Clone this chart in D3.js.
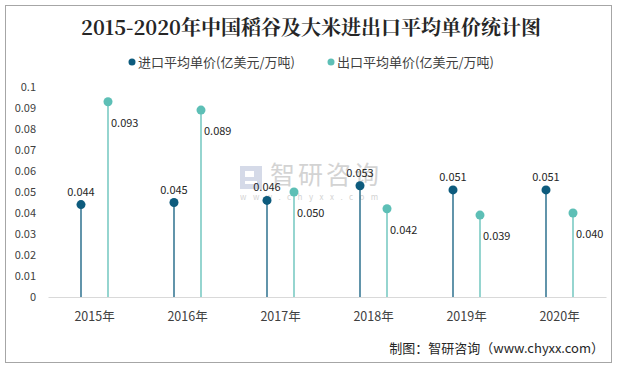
<!DOCTYPE html>
<html><head><meta charset="utf-8">
<script src="https://cdn.jsdelivr.net/npm/d3@7"></script>
<style>body{margin:0;background:#fff}svg{display:block}</style>
</head><body>
<script>
const categories = ["2015年","2016年","2017年","2018年","2019年","2020年"];
const importValues = [0.044,0.045,0.046,0.053,0.051,0.051];
const exportValues = [0.093,0.089,0.050,0.042,0.039,0.040];
const importLabels = ["0.044","0.045","0.046","0.053","0.051","0.051"];
const exportLabels = ["0.093","0.089","0.050","0.042","0.039","0.040"];
const yTicks = [0,0.01,0.02,0.03,0.04,0.05,0.06,0.07,0.08,0.09,0.1];
const seriesNames = ["进口平均单价(亿美元/万吨)","出口平均单价(亿美元/万吨)"];
const title = "2015-2020年中国稻谷及大米进出口平均单价统计图";
const source = "制图：智研咨询（www.chyxx.com）";

const W=617,H=369;
const cImp="#0d5b7d", cExp="#5dbfb6";
const font="'Noto Sans CJK SC','Noto Sans',sans-serif";
const svg=d3.select("body").append("svg").attr("width",W).attr("height",H);
svg.append("rect").attr("x",5.5).attr("y",5.5).attr("width",606).attr("height",357)
  .attr("fill","#fff").attr("stroke","#a6a6a6").attr("stroke-width",1);

svg.append("text").attr("x",311).attr("y",35).attr("text-anchor","middle")
  .attr("font-family","'Noto Serif CJK SC','Noto Sans CJK SC',serif").attr("font-weight","bold")
  .attr("font-size",20).attr("fill","#262626").text(title);

// legend
const leg=[{x:132,c:cImp,t:seriesNames[0]},{x:331,c:cExp,t:seriesNames[1]}];
leg.forEach(l=>{
  svg.append("circle").attr("cx",l.x).attr("cy",62).attr("r",3.5).attr("fill",l.c);
  svg.append("text").attr("x",l.x+6).attr("y",66.5).attr("font-family",font).attr("font-size",13)
    .attr("fill","#404040").text(l.t);
});

const x=d3.scaleBand().domain(categories).range([48,606]);
const y=d3.scaleLinear().domain([0,0.1]).range([297,87]);

// watermark
const wm=svg.append("g").attr("opacity",0.55);
wm.append("rect").attr("x",240).attr("y",166).attr("width",22).attr("height",23).attr("fill","#b3bcd6");
wm.append("rect").attr("x",245).attr("y",171).attr("width",9).attr("height",6).attr("fill","#fff");
wm.append("rect").attr("x",245).attr("y",181).attr("width",12).attr("height",3).attr("fill","#fff");
wm.append("text").attr("x",270).attr("y",184).attr("font-family",font).attr("font-size",25)
  .attr("fill","#b0b0b0").attr("letter-spacing",3).text("智研咨询");
wm.append("text").attr("x",240).attr("y",200).attr("font-family",font).attr("font-size",8)
  .attr("fill","#b0b0b0").attr("letter-spacing",6.5).text("www.chyxx.com");

// y axis labels
svg.append("g").selectAll("text").data(yTicks).join("text")
  .attr("x",36).attr("y",d=>y(d)+4).attr("text-anchor","end")
  .attr("font-family",font).attr("font-size",11).attr("fill","#404040")
  .text(d=>d===0?"0":d3.format("")(+d.toFixed(2)));

// x axis
const xa=svg.append("g").attr("transform","translate(0,297)")
  .call(d3.axisBottom(x).tickSize(0).tickPadding(15));
xa.select(".domain").attr("stroke","#d9d9d9");
xa.selectAll("text").attr("font-family",font).attr("font-size",12.5).attr("fill","#404040");

const off=13.5;
const g=svg.append("g");
categories.forEach((c,i)=>{
  const cx=x(c)+x.bandwidth()/2;
  const xi=cx-off, xe=cx+off;
  g.append("line").attr("x1",xi).attr("x2",xi).attr("y1",y(0)).attr("y2",y(importValues[i]))
    .attr("stroke",cImp).attr("stroke-width",1.3);
  g.append("circle").attr("cx",xi).attr("cy",y(importValues[i])).attr("r",4.5).attr("fill",cImp);
  g.append("text").attr("x",xi).attr("y",y(importValues[i])-9).attr("text-anchor","middle")
    .attr("font-family",font).attr("font-size",11).attr("fill","#262626").text(importLabels[i]);
  g.append("line").attr("x1",xe).attr("x2",xe).attr("y1",y(0)).attr("y2",y(exportValues[i]))
    .attr("stroke",cExp).attr("stroke-width",1.3);
  g.append("circle").attr("cx",xe).attr("cy",y(exportValues[i])).attr("r",4.5).attr("fill",cExp);
  g.append("text").attr("x",xe+3).attr("y",y(exportValues[i])+25).attr("text-anchor","start")
    .attr("font-family",font).attr("font-size",11).attr("fill","#262626").text(exportLabels[i]);
});

svg.append("text").attr("x",604).attr("y",353).attr("text-anchor","end")
  .attr("font-family",font).attr("font-size",13).attr("fill","#262626").text(source);
</script>
</body></html>
